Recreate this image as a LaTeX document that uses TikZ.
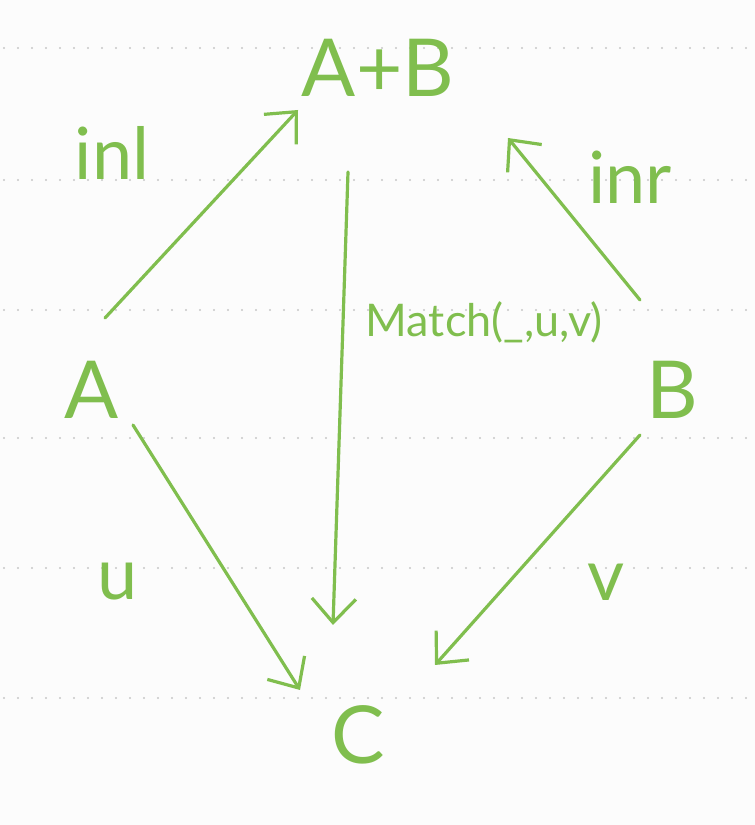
\documentclass[tikz,border=0pt]{standalone}
\usepackage{fontspec}
\setmainfont{Lato}
\usetikzlibrary{arrows.meta,calc}
\definecolor{ink}{RGB}{128,190,78}
\definecolor{paper}{RGB}{252,252,252}
\definecolor{dots}{RGB}{200,200,200}
\tikzset{
  obj/.style={text=ink,inner sep=0pt,font=\fontsize{80}{80}\selectfont},
  lbl/.style={text=ink,inner sep=0pt,font=\fontsize{72}{72}\selectfont},
  arr/.style={draw=ink,line width=3.2pt,line cap=round,line join=round,-{Straight Barb[length=24pt,width=44pt,line width=3.2pt]}},
  ruling/.style={draw=dots,line width=2.4pt,line cap=round,dash pattern=on 0pt off 14pt}
}
\begin{document}
\begin{tikzpicture}[x=1pt,y=1pt]
\fill[paper] (0,0) rectangle (755,825);
\useasboundingbox (0,0) rectangle (755,825);
\foreach \yy in {777,645,515,387,257,127} {
  \draw[ruling] (4,\yy) -- (755,\yy);
}
\node[obj] (AB) at (378,757) {A+B};
\node[obj] (A) at (92,435) {A};
\node[obj] (B) at (672,435) {B};
\node[obj] (C) at (358,90) {C};
\node[lbl] (linl) at (112,672) {inl};
\node[lbl] (linr) at (630,648) {inr};
\node[lbl] (lu) at (118,243) {u};
\node[lbl] (lv) at (606,243) {v};
\node[text=ink,inner sep=0pt,font=\fontsize{45}{45}\selectfont] (lm) at (484,503) {Match(\_,u,v)};
\draw[arr] ($(A)+(13,72)$) -- ($(AB)+(-80,-42)$);
\draw[arr] ($(B)+(-32,90)$) -- ($(AB)+(130,-70)$);
\draw[arr] ($(AB)+(-30,-104)$) -- ($(C)+(-25,110)$);
\draw[arr] ($(A)+(41,-35)$) -- ($(C)+(-58,45)$);
\draw[arr] ($(B)+(-32,-45)$) -- ($(C)+(77,70)$);
\end{tikzpicture}
\end{document}
